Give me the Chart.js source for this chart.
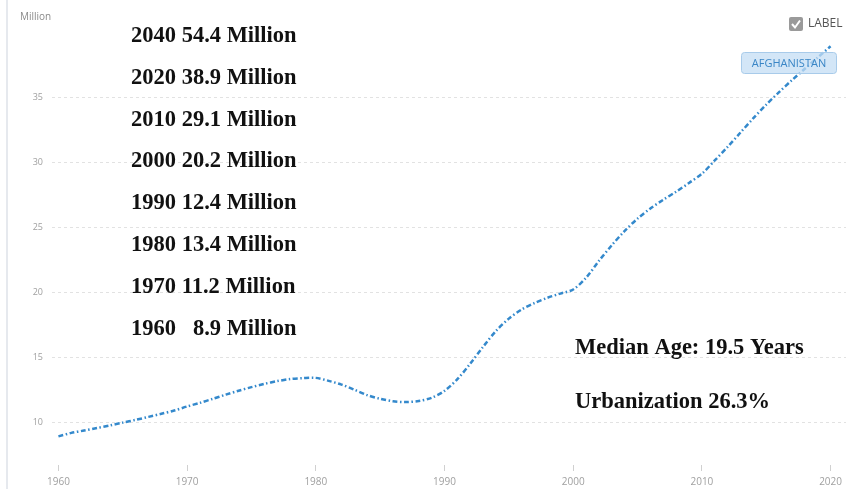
<!DOCTYPE html>
<html lang="en">
<head>
    <meta charset="UTF-8">
    <title>Afghanistan Population</title>
    <script src="https://cdn.jsdelivr.net/npm/chart.js"></script>
    <style>
        body {
            margin: 0;
            padding: 0;
            background: #ffffff;
        }
        .wrap {
            position: relative;
            width: 847px;
            height: 489px;
        }
    </style>
</head>
<body>
<div class="wrap">
    <canvas id="popChart"></canvas>
</div>
<script>
    // population, millions, one value per year
    const years = [];
    for (let y = 1960; y <= 2020; y++) years.push(y);

    const population = [
        8.9, 9.17, 9.35, 9.54, 9.74, 9.96, 10.17, 10.40, 10.64, 10.89,
        11.2, 11.48, 11.79, 12.11, 12.41, 12.69, 12.94, 13.15, 13.31, 13.38,
        13.4, 13.17, 12.88, 12.49, 12.07, 11.79, 11.60, 11.54, 11.62, 11.87,
        12.4, 13.30, 14.49, 15.79, 17.01, 17.96, 18.66, 19.16, 19.56, 19.88,
        20.2, 21.1, 22.4, 23.6, 24.7, 25.65, 26.43, 27.10, 27.72, 28.39,
        29.1, 30.12, 31.16, 32.27, 33.37, 34.41, 35.38, 36.30, 37.17, 38.04,
        38.9
    ];

    // headline figures listed on the left
    const milestoneYears = [2040, 2020, 2010, 2000, 1990, 1980, 1970, 1960];
    const milestoneValues = [54.4, 38.9, 29.1, 20.2, 12.4, 13.4, 11.2, 8.9];

    const medianAge = 19.5;
    const urbanization = 26.3;

    const xTicks = [1960, 1970, 1980, 1990, 2000, 2010, 2020];
    const yTicks = [10, 15, 20, 25, 30, 35];

    const lineColor = '#3489cc';

    function milestoneText(i) {
        let v = milestoneValues[i].toFixed(1);
        // pad short numbers so "Million" lines up
        let pad = v.length < 4 ? '   ' : ' ';
        return milestoneYears[i] + pad + v + ' Million';
    }

    const overlay = {
        id: 'overlay',
        afterDraw(chart) {
            const c = chart.ctx;
            c.save();

            // left frame line
            c.fillStyle = '#e6e9ee';
            c.fillRect(6, 0, 2, chart.height);

            // unit label
            c.fillStyle = '#8a8a8a';
            c.font = '10px "Open Sans", sans-serif';
            c.textAlign = 'left';
            c.textBaseline = 'middle';
            c.fillText('Million', 20, 17);

            // milestone list
            c.fillStyle = '#111111';
            c.font = 'bold 22.5px "Liberation Serif", "Times New Roman", serif';
            c.textBaseline = 'alphabetic';
            for (let i = 0; i < milestoneYears.length; i++) {
                c.fillText(milestoneText(i), 131, 41.7 + i * 41.9);
            }
            c.fillText('Median Age: ' + medianAge + ' Years', 575, 354);
            c.fillText('Urbanization ' + urbanization + '%', 575, 408);

            // label toggle
            c.fillStyle = '#9a9a9a';
            c.beginPath();
            c.roundRect(789, 17, 14, 14, 2);
            c.fill();
            c.strokeStyle = '#ffffff';
            c.lineWidth = 2;
            c.beginPath();
            c.moveTo(792, 24);
            c.lineTo(795, 27.5);
            c.lineTo(800, 20.5);
            c.stroke();
            c.fillStyle = '#555555';
            c.font = '12px "Open Sans", sans-serif';
            c.textBaseline = 'middle';
            c.fillText('LABEL', 808, 24);

            // series tag
            c.fillStyle = 'rgba(196, 222, 244, 0.75)';
            c.strokeStyle = '#a8cbea';
            c.lineWidth = 1;
            c.beginPath();
            c.roundRect(741.5, 52.5, 95, 21, 3);
            c.fill();
            c.stroke();
            c.fillStyle = '#3a86c6';
            c.font = '11px "Open Sans", sans-serif';
            c.textAlign = 'center';
            c.fillText('AFGHANISTAN', 789, 63.5);

            c.restore();
        }
    };

    const ctx = document.getElementById('popChart').getContext('2d');
    const popChart = new Chart(ctx, {
        type: 'line',
        data: {
            datasets: [{
                label: 'Afghanistan',
                data: years.map((y, i) => ({ x: y, y: population[i] })),
                borderColor: lineColor,
                borderWidth: 2.5,
                borderDash: [5, 2.5, 1.5, 2.5],
                pointRadius: 0,
                tension: 0.3,
                fill: false
            }]
        },
        options: {
            responsive: true,
            maintainAspectRatio: false,
            animation: false,
            layout: { padding: { top: 32, left: 0, right: 0, bottom: 0 } },
            plugins: {
                legend: { display: false },
                tooltip: { enabled: false }
            },
            scales: {
                x: {
                    type: 'linear',
                    min: 1959.5,
                    max: 2021.2,
                    afterBuildTicks: s => { s.ticks = xTicks.map(v => ({ value: v })); },
                    afterFit: s => { s.height = 24; },
                    border: { display: false },
                    grid: {
                        drawOnChartArea: false,
                        drawTicks: true,
                        tickLength: 6,
                        color: '#d0d0d0'
                    },
                    ticks: {
                        padding: 5,
                        color: '#a0a0a0',
                        font: { family: 'Open Sans', size: 10 },
                        maxRotation: 0,
                        callback: v => String(v)
                    }
                },
                y: {
                    min: 6.7,
                    max: 40,
                    afterBuildTicks: s => { s.ticks = yTicks.map(v => ({ value: v })); },
                    afterFit: s => { s.width = 52; },
                    // dash here sets the grid line pattern too
                    border: { display: false, dash: [3, 3] },
                    grid: {
                        drawTicks: false,
                        color: '#e2e2e2',
                        lineWidth: 1
                    },
                    ticks: {
                        padding: 9,
                        color: '#a0a0a0',
                        font: { family: 'Open Sans', size: 9 }
                    }
                }
            }
        },
        plugins: [overlay]
    });
</script>
</body>
</html>
